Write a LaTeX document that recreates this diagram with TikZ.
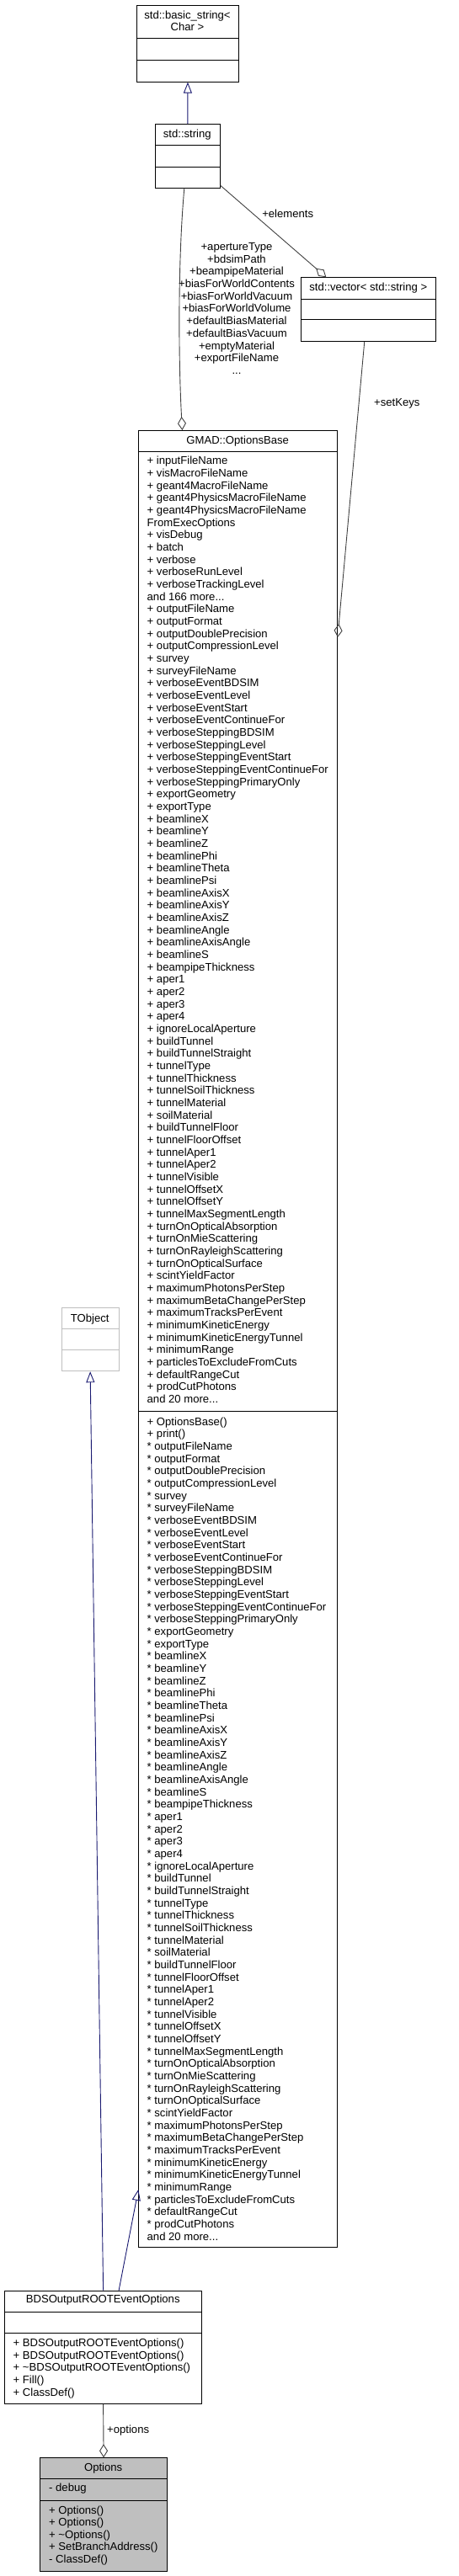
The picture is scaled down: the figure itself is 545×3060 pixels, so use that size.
\documentclass[tikz,border=0pt]{standalone}
\usepackage{fontspec}
\setmainfont{Liberation Sans}
\usepackage{tikz}
\usetikzlibrary{arrows.meta}

\definecolor{edgeblue}{HTML}{191970}
\definecolor{edgegrey}{HTML}{404040}
\definecolor{boxgrey}{HTML}{BFBFBF}

\begin{document}
\begin{tikzpicture}[x=1pt,y=-1pt,
        every node/.style={font=\fontsize{13.1}{14.7}\selectfont},
        classbox/.style={draw=black,line width=0.9pt,inner sep=0pt,anchor=north west},
        divider/.style={line width=0.9pt},
        title/.style={inner sep=0pt,text height=9.4pt,text depth=0pt,anchor=center},
        member/.style={inner sep=0pt,text height=9.4pt,text depth=0pt,anchor=west},
        inherit/.style={draw=edgeblue,line width=0.9pt,-{Triangle[open,length=13pt,width=10pt]}},
        aggr/.style={draw=edgegrey,line width=0.9pt,-{Diamond[open,length=16pt,width=10pt]}}]
        \useasboundingbox (0,0) rectangle (545,3060);

        \node[classbox,minimum width=121.6pt,minimum height=91pt] (basestr) at (161.7,5.7) {};
        \draw[divider] ([yshift=-40pt]basestr.north west) -- ([yshift=-40pt]basestr.north east);
        \draw[divider] ([yshift=-65.3pt]basestr.north west) -- ([yshift=-65.3pt]basestr.north east);
        \node[title] (basestr-t1) at (222.5,17.7) {std::basic\_string<};
        \node[title] (basestr-t2) at (222.5,31.7) {Char >};

        \node[classbox,minimum width=76.7pt,minimum height=76pt] (stdstr) at (184,147) {};
        \draw[divider] ([yshift=-25.7pt]stdstr.north west) -- ([yshift=-25.7pt]stdstr.north east);
        \draw[divider] ([yshift=-51pt]stdstr.north west) -- ([yshift=-51pt]stdstr.north east);
        \node[title] (stdstr-t) at (222.3,158.7) {std::string};

        \node[classbox,minimum width=160pt,minimum height=75.7pt] (vec) at (357.3,329.3) {};
        \draw[divider] ([yshift=-25.7pt]vec.north west) -- ([yshift=-25.7pt]vec.north east);
        \draw[divider] ([yshift=-50.4pt]vec.north west) -- ([yshift=-50.4pt]vec.north east);
        \node[title] (vec-t) at (437.3,340.7) {std::vector< std::string >};

        \node[classbox,minimum width=235.7pt,minimum height=2158.3pt] (ob) at (164.3,511) {};
        \draw[divider] ([yshift=-25.3pt]ob.north west) -- ([yshift=-25.3pt]ob.north east);
        \draw[divider] ([yshift=-1165.7pt]ob.north west) -- ([yshift=-1165.7pt]ob.north east);
        \node[title] (ob-t) at (282.2,522.3) {GMAD::OptionsBase};
        \foreach \m [count=\i] in {+ inputFileName, + visMacroFileName, + geant4MacroFileName,
                + geant4PhysicsMacroFileName, + geant4PhysicsMacroFileName, FromExecOptions,
                + visDebug, + batch, + verbose, + verboseRunLevel, + verboseTrackingLevel,
                and 166 more.{}.{}., + outputFileName, + outputFormat, + outputDoublePrecision,
                + outputCompressionLevel, + survey, + surveyFileName, + verboseEventBDSIM,
                + verboseEventLevel, + verboseEventStart, + verboseEventContinueFor,
                + verboseSteppingBDSIM, + verboseSteppingLevel, + verboseSteppingEventStart,
                + verboseSteppingEventContinueFor, + verboseSteppingPrimaryOnly, + exportGeometry,
                + exportType, + beamlineX, + beamlineY, + beamlineZ, + beamlinePhi, + beamlineTheta,
                + beamlinePsi, + beamlineAxisX, + beamlineAxisY, + beamlineAxisZ, + beamlineAngle,
                + beamlineAxisAngle, + beamlineS, + beampipeThickness, + aper1, + aper2, + aper3,
                + aper4, + ignoreLocalAperture, + buildTunnel, + buildTunnelStraight, + tunnelType,
                + tunnelThickness, + tunnelSoilThickness, + tunnelMaterial, + soilMaterial,
                + buildTunnelFloor, + tunnelFloorOffset, + tunnelAper1, + tunnelAper2,
                + tunnelVisible, + tunnelOffsetX, + tunnelOffsetY, + tunnelMaxSegmentLength,
                + turnOnOpticalAbsorption, + turnOnMieScattering, + turnOnRayleighScattering,
                + turnOnOpticalSurface, + scintYieldFactor, + maximumPhotonsPerStep,
                + maximumBetaChangePerStep, + maximumTracksPerEvent, + minimumKineticEnergy,
                + minimumKineticEnergyTunnel, + minimumRange, + particlesToExcludeFromCuts,
                + defaultRangeCut, + prodCutPhotons, and 20 more.{}.{}.}
        \node[member] (ob-a\i) at (174.5,{547+(\i-1)*14.67}) {\m};
        \foreach \m [count=\i] in {+ OptionsBase(), + print(), * outputFileName, * outputFormat,
                * outputDoublePrecision, * outputCompressionLevel, * survey, * surveyFileName,
                * verboseEventBDSIM, * verboseEventLevel, * verboseEventStart,
                * verboseEventContinueFor, * verboseSteppingBDSIM, * verboseSteppingLevel,
                * verboseSteppingEventStart, * verboseSteppingEventContinueFor,
                * verboseSteppingPrimaryOnly, * exportGeometry, * exportType, * beamlineX,
                * beamlineY, * beamlineZ, * beamlinePhi, * beamlineTheta, * beamlinePsi,
                * beamlineAxisX, * beamlineAxisY, * beamlineAxisZ, * beamlineAngle,
                * beamlineAxisAngle, * beamlineS, * beampipeThickness, * aper1, * aper2, * aper3,
                * aper4, * ignoreLocalAperture, * buildTunnel, * buildTunnelStraight, * tunnelType,
                * tunnelThickness, * tunnelSoilThickness, * tunnelMaterial, * soilMaterial,
                * buildTunnelFloor, * tunnelFloorOffset, * tunnelAper1, * tunnelAper2,
                * tunnelVisible, * tunnelOffsetX, * tunnelOffsetY, * tunnelMaxSegmentLength,
                * turnOnOpticalAbsorption, * turnOnMieScattering, * turnOnRayleighScattering,
                * turnOnOpticalSurface, * scintYieldFactor, * maximumPhotonsPerStep,
                * maximumBetaChangePerStep, * maximumTracksPerEvent, * minimumKineticEnergy,
                * minimumKineticEnergyTunnel, * minimumRange, * particlesToExcludeFromCuts,
                * defaultRangeCut, * prodCutPhotons, and 20 more.{}.{}.}
        \node[member] (ob-m\i) at (174.5,{1688.3+(\i-1)*14.67}) {\m};

        \node[classbox,draw=boxgrey,minimum width=68pt,minimum height=75.3pt] (tobj) at (72.7,1553) {};
        \draw[divider,boxgrey] ([yshift=-25pt]tobj.north west) -- ([yshift=-25pt]tobj.north east);
        \draw[divider,boxgrey] ([yshift=-50.3pt]tobj.north west) -- ([yshift=-50.3pt]tobj.north east);
        \node[title] (tobj-t) at (106.7,1565.5) {TObject};

        \node[classbox,minimum width=234.3pt,minimum height=134.3pt] (bds) at (5,2720.7) {};
        \draw[divider] ([yshift=-25.3pt]bds.north west) -- ([yshift=-25.3pt]bds.north east);
        \draw[divider] ([yshift=-51pt]bds.north west) -- ([yshift=-51pt]bds.north east);
        \node[title] (bds-t) at (122.2,2731) {BDSOutputROOTEventOptions};
        \foreach \m [count=\i] in {+ BDSOutputROOTEventOptions(), + BDSOutputROOTEventOptions(),
                + \textasciitilde BDSOutputROOTEventOptions(), + Fill(), + ClassDef()}
        \node[member] (bds-m\i) at (15.5,{2782.7+(\i-1)*14.75}) {\m};

        \node[classbox,fill=boxgrey,minimum width=150.7pt,minimum height=134.7pt] (opt) at (47.3,2919.3) {};
        \draw[divider] ([yshift=-25pt]opt.north west) -- ([yshift=-25pt]opt.north east);
        \draw[divider] ([yshift=-50.7pt]opt.north west) -- ([yshift=-50.7pt]opt.north east);
        \node[title] (opt-t) at (122.7,2930.7) {Options};
        \node[member] (opt-a1) at (58,2955) {- debug};
        \foreach \m [count=\i] in {+ Options(), + Options(), + \textasciitilde Options(),
                + SetBranchAddress(), - ClassDef()}
        \node[member] (opt-m\i) at (58,{2981.7+(\i-1)*14.5}) {\m};

        \draw[inherit] (stdstr.north) -- (basestr.south);
        \draw[aggr] ([yshift=3.7pt]stdstr.south east) -- ([xshift=30pt]vec.north west);
        \node[title] (elem-l) at (341.7,254) {+elements};
        \draw[aggr] ([xshift=-4pt]stdstr.south) .. controls (211,310) and (212,430) .. ([xshift=-66.2pt]ob.north);
        \foreach \m [count=\i] in {+apertureType, +bdsimPath, +beampipeMaterial, +biasForWorldContents,
                +biasForWorldVacuum, +biasForWorldVolume, +defaultBiasMaterial, +defaultBiasVacuum,
                +emptyMaterial, +exportFileName, .{}.{}.}
        \node[title] (attr-l\i) at (281,{292.7+(\i-1)*14.7}) {\m};
        \draw[aggr] ([xshift=-5pt]vec.south) -- ([yshift=-246pt]ob.north east);
        \node[member] (keys-l) at (444,477.7) {+setKeys};
        \draw[inherit] (bds.north) -- (tobj.south);
        \draw[inherit] ([xshift=18.5pt]bds.north) -- ([yshift=69.3pt]ob.south west);
        \draw[aggr] (bds.south) -- (opt.north);
        \node[member] (opt-l) at (127,2885.7) {+options};
\end{tikzpicture}
\end{document}
